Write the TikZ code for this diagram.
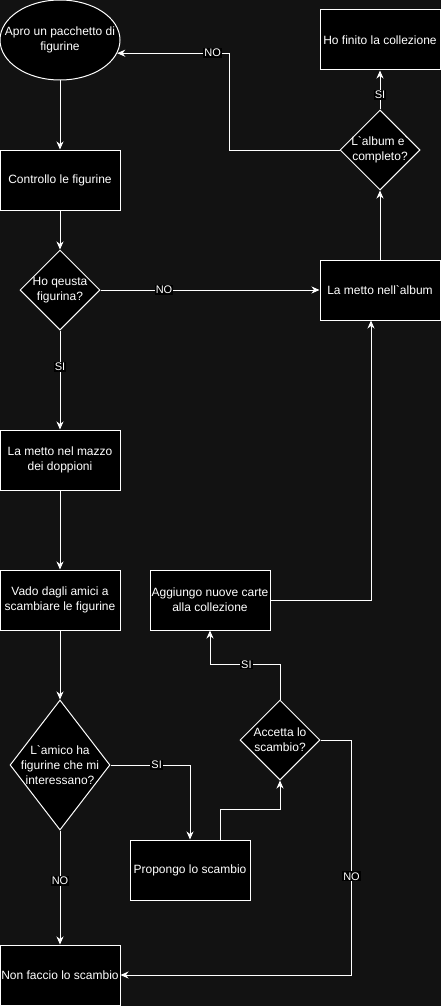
\documentclass[tikz,border=0pt]{standalone}
\usepackage{fontspec}
\setmainfont{Liberation Sans}
\usetikzlibrary{shapes.geometric,arrows.meta}
\definecolor{bgdark}{HTML}{121212}
\newcommand\gravis{\textasciigrave}
\begin{document}
\begin{tikzpicture}[x=1pt,y=-1pt]
	\tikzstyle{every node}+=[text=white,font=\fontsize{12}{15}\selectfont]
	\tikzstyle{box}=[draw=white,fill=black,line width=1pt,minimum width=120pt,minimum height=60pt,inner sep=1pt,align=center]
	\tikzstyle{dec}=[diamond,draw=white,fill=black,line width=1pt,inner sep=0pt,minimum width=80pt,minimum height=80pt]
	\tikzstyle{lab}=[fill=black,inner sep=1pt,font=\fontsize{11}{12}\selectfont]
	\tikzstyle{flow}=[draw=white,line width=1pt,-{Stealth[length=8pt,width=7pt,inset=2.5pt]}]
	\useasboundingbox (0,0) rectangle (441,1006);
	\fill [bgdark] (0,0) rectangle (441,1006);
	\node [ellipse,draw=white,fill=black,line width=1pt,inner sep=0pt,minimum width=120pt,minimum height=80pt,label={[align=center]center:Apro un pacchetto di\\figurine}] (apro) at (60,40) {};
	\node [box] (controllo) at (60,180) {Controllo le figurine};
	\node [dec,label={[align=center]center:Ho qeusta\\figurina?}] (hoquesta) at (60,290) {};
	\node [box] (mazzo) at (60,460) {La metto nel mazzo\\dei doppioni};
	\node [box] (amici) at (60,600) {Vado dagli amici a\\scambiare le figurine};
	\node [dec,minimum width=100pt,minimum height=130pt,label={[align=center]center:L\gravis amico ha\\figurine che mi\\interessano?}] (amico) at (60,765) {};
	\node [box] (nonfaccio) at (60,975) {Non faccio lo scambio};
	\node [box] (propongo) at (190,870) {Propongo lo scambio};
	\node [dec,label={[align=center]center:Accetta lo\\scambio?}] (accetta) at (280,740) {};
	\node [box] (aggiungo) at (210,600) {Aggiungo nuove carte\\alla collezione};
	\node [box] (album) at (380,290) {La metto nell\gravis album};
	\node [dec,label={[align=center]center:L\gravis album e\gravis\\completo?}] (completo) at (380,150) {};
	\node [box] (finito) at (380,40) {Ho finito la collezione};
	\draw [flow] (apro) -- (controllo);
	\draw [flow] (controllo) -- (hoquesta);
	\draw [flow] (hoquesta) -- node [lab,pos=0.29] {NO} (album);
	\draw [flow] (hoquesta) -- node [lab,pos=0.37] {SI} (mazzo);
	\draw [flow] (mazzo) -- (amici);
	\draw [flow] (amici) -- (amico);
	\draw [flow] (amico) -- node [lab,pos=0.44] {NO} (nonfaccio);
	\draw [flow] (amico.east) -| node [lab,pos=0.29] {SI} (propongo.north);
	\draw [flow] ([xshift=30pt]propongo.north) -- ++(0,-30) -| (accetta.south);
	\draw [flow] (accetta.north) -- ++(0,-35) -| node [lab,pos=0.24] {SI} (aggiungo.south);
	\draw [flow] (accetta.east) -- ++(31,0) |- node [lab,pos=0.29] {NO} (nonfaccio.east);
	\draw [flow] (aggiungo.east) -| ([xshift=-9pt]album.south);
	\draw [flow] (album) -- (completo);
	\draw [flow] (completo) -- node [lab,pos=0.375] {SI} (finito);
	\draw [flow] (completo.west) -- ++(-110,0) |- node [lab,pos=0.575] {NO} (apro.-13);
\end{tikzpicture}
\end{document}
